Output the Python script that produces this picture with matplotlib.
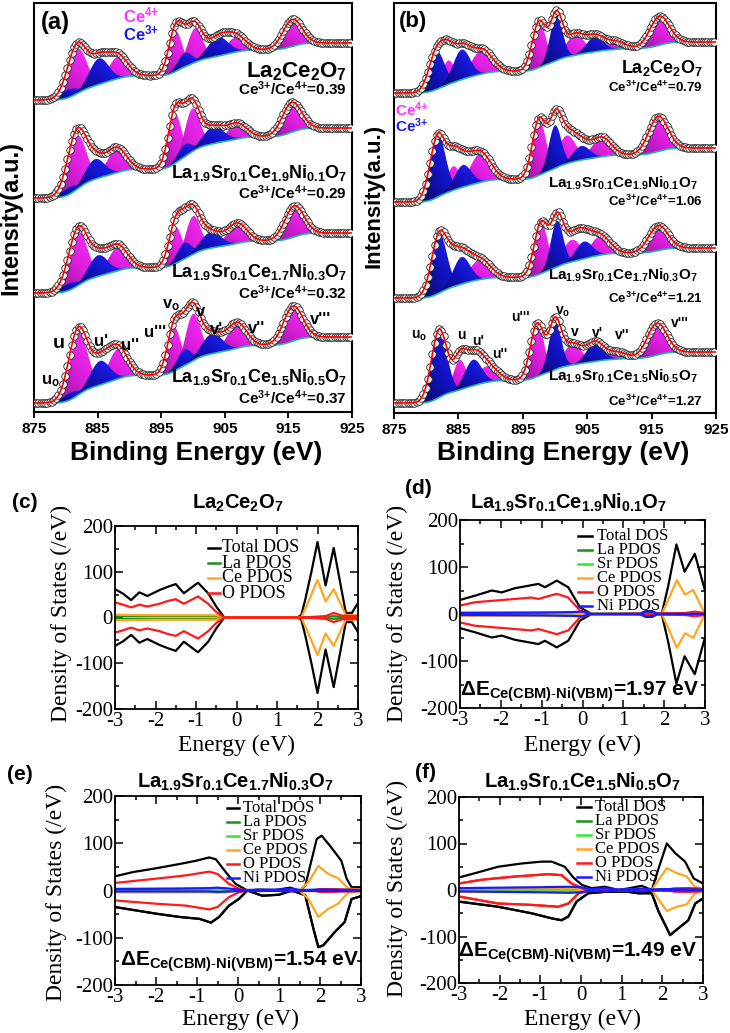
import numpy as np
import matplotlib
matplotlib.use("Agg")
import matplotlib.pyplot as plt
from matplotlib.colors import LinearSegmentedColormap
from matplotlib.lines import Line2D

W, H = 730, 1033
SANS = "Liberation Sans"
SERIF = "Liberation Serif"

plt.rcParams["font.family"] = [SANS, "DejaVu Sans"]
plt.rcParams["mathtext.fontset"] = "custom"
plt.rcParams["mathtext.rm"] = SANS
plt.rcParams["mathtext.bf"] = SANS + ":bold"
plt.rcParams["mathtext.it"] = SANS + ":italic"
plt.rcParams["axes.unicode_minus"] = False

# ---------------- XPS Ce 3d fits: centre (eV) / height (a.u.) per spectrum ----------------
BE = np.arange(875, 925.001, 0.05)

# (a) baselines (left, right) for the four stacked spectra, top to bottom
a_base = [(312, 369), (214, 284), (119, 179), (9, 75)]
a_ce4_c = [[881.9, 888.2, 897.2, 900.3, 906.8, 915.6],
           [881.8, 888.0, 897.1, 899.9, 906.9, 915.5],
           [882.0, 888.2, 897.2, 900.0, 906.9, 915.9],
           [882.0, 888.2, 897.0, 900.0, 906.9, 915.7]]
a_ce4_h = [[44, 22, 41, 34, 15, 27],
           [53, 24, 50, 43, 15, 30],
           [53, 24, 37, 38, 20, 31],
           [62, 30, 44, 47, 25, 35]]
a_ce4_s = [1.4, 1.5, 1.05, 1.2, 1.5, 1.5]
a_ce3_c = [[880.5, 885.2, 898.7, 903.9],
           [880.5, 884.6, 898.7, 903.2],
           [880.5, 885.1, 898.6, 902.8],
           [880.7, 885.4, 898.6, 903.0]]
a_ce3_h = [[8, 26, 14, 19], [7, 20, 12, 17], [7, 21, 16, 16], [7, 24, 16, 20]]
a_ce3_s = [1.3, 1.5, 1.1, 1.6]

# (b)
b_base = [(320, 371), (211, 265), (115, 165), (10, 61)]
b_ce4_c = [[883.4, 888.6, 897.5, 903.1, 909.3, 916.2],
           [884.2, 888.4, 897.5, 901.8, 907.2, 916.0],
           [884.0, 888.3, 897.8, 902.6, 907.0, 916.0],
           [885.2, 889.4, 897.2, 902.7, 909.6, 915.8]]
b_ce4_h = [[24, 24, 46, 21, 8, 29],
           [24, 29, 56, 28, 19, 35],
           [14, 20, 51, 22, 19, 25],
           [30, 16, 53, 21, 7, 32]]
b_ce4_s = [1.0, 1.6, 1.05, 1.4, 1.5, 1.5]
b_ce3_c = [[881.6, 885.5, 900.2, 906.2],
           [881.8, 885.7, 900.0, 904.1],
           [882.0, 885.5, 900.3, 904.5],
           [882.0, 887.3, 900.0, 906.2]]
b_ce3_h = [[38, 30, 46, 15], [62, 22, 43, 14], [59, 27, 46, 17], [68, 26, 48, 19]]
b_ce3_s = [1.2, 1.3, 0.95, 1.3]

a_names = [r"La$_\mathbf{2}$Ce$_\mathbf{2}$O$_\mathbf{7}$",
           r"La$_\mathbf{1.9}$Sr$_\mathbf{0.1}$Ce$_\mathbf{1.9}$Ni$_\mathbf{0.1}$O$_\mathbf{7}$",
           r"La$_\mathbf{1.9}$Sr$_\mathbf{0.1}$Ce$_\mathbf{1.7}$Ni$_\mathbf{0.3}$O$_\mathbf{7}$",
           r"La$_\mathbf{1.9}$Sr$_\mathbf{0.1}$Ce$_\mathbf{1.5}$Ni$_\mathbf{0.5}$O$_\mathbf{7}$"]
a_ratio = ["0.39", "0.29", "0.32", "0.37"]
b_ratio = ["0.79", "1.06", "1.21", "1.27"]
peak_names = [r"u$_\mathbf{o}$", "u", "u'", "u''", "u'''",
              r"v$_\mathbf{o}$", "v", "v'", "v''", "v'''"]

# ---------------- DOS curves (energy eV, states/eV) ----------------
# (c) La2Ce2O7  (spin up; spin down is the mirror image)
c_tot_E = [-3.0, -2.8, -2.6, -2.4, -2.2, -1.9, -1.7, -1.5, -1.3, -0.95, -0.7, -0.5, -0.3,
           1.5, 1.6, 1.7, 1.85, 2.0, 2.2, 2.4, 2.7, 2.85, 3.0]
c_tot_up = [62, 52, 38, 55, 47, 60, 67, 73, 53, 76, 53, 24, 0,
            0, 5, 40, 100, 165, 70, 152, 10, 10, 32]
c_o_E = [-3.0, -2.8, -2.6, -2.4, -2.2, -1.9, -1.7, -1.5, -1.3, -0.95, -0.7, -0.5, -0.3,
         1.6, 2.0, 2.2, 2.4, 2.6, 3.0]
c_o_up = [33, 28, 22, 28, 24, 30, 36, 40, 30, 46, 30, 12, 0, 0, 2, 3, 10, 4, 3]
c_ce_E = [-3.0, -2.0, -0.5, -0.3, 1.6, 1.8, 2.0, 2.2, 2.4, 2.7, 3.0]
c_ce_up = [6, 5, 5, 0, 0, 40, 82, 35, 62, 5, 5]
c_la_E = [-3.0, -0.5, -0.3, 1.6, 2.2, 2.4, 2.6, 3.0]
c_la_up = [3, 3, 0, 0, 1, 3, 1, 1]

# (d) La1.9Sr0.1Ce1.9Ni0.1O7
d_tot_E = [-3.0, -2.63, -2.22, -1.98, -1.65, -1.33, -1.08, -0.92, -0.63, -0.35, -0.06, 0.22,
           1.4, 1.55, 1.7, 1.85, 1.94, 2.1, 2.3, 2.5, 2.75, 3.0]
d_tot_up = [30, 39, 50, 46, 55, 60, 64, 57, 71, 57, 14, 0,
            0, 6, 6, 0, 0, 60, 148, 90, 128, 50]
d_o_E = [-3.0, -2.63, -2.22, -1.65, -1.25, -1.08, -0.63, -0.35, -0.06, 0.22, 2.5, 2.75, 3.0]
d_o_up = [18, 25, 28, 32, 35, 32, 43, 35, 7, 0, 2, 5, 2]
d_ce_E = [-3.0, -0.2, 0.1, 1.94, 2.1, 2.31, 2.51, 2.71, 3.0]
d_ce_up = [4, 3, 0, 0, 30, 72, 41, 51, 0]
d_la_E = [-3.0, -0.2, 0.1, 3.0]
d_la_up = [2, 2, 0, 0]
d_sr_E = [-3.0, -0.2, 0.1, 3.0]
d_sr_up = [1, 1, 0, 0]
d_ni_E = [-3.0, -1.0, -0.3, 0.0, 0.2, 1.4, 1.55, 1.7, 1.85, 2.0, 3.0]
d_ni_up = [2, 3, 4, 5, 0, 0, 5, 5, 0, 0, 0]

# (e) La1.9Sr0.1Ce1.7Ni0.3O7 (spin up and down read separately)
e_totu_E = [-3.0, -2.56, -2.0, -1.43, -1.02, -0.7, -0.54, -0.3, -0.06, 0.23, 0.5, 0.9,
            1.27, 1.5, 1.64, 1.92, 2.04, 2.24, 2.52, 2.65, 2.77, 3.0]
e_totu = [30, 39, 47, 56, 63, 70, 66, 39, 14, 0, 2, 1, 6, 0, 10, 109, 116, 95, 63, 25, 7, 7]
e_totd_E = [-3.0, -2.0, -1.43, -0.94, -0.66, -0.46, -0.22, 0.02, 0.23, 0.59, 1.0, 1.31,
            1.64, 1.84, 1.96, 2.08, 2.36, 2.6, 2.77, 3.0]
e_totd = [-35, -49, -56, -60, -68, -56, -32, -18, 0, -11, -9, 0,
          -10, -81, -120, -116, -88, -67, -18, -12]
e_o_E = [-3.0, -2.0, -1.27, -0.7, -0.5, -0.22, 0.02, 0.23, 1.8, 2.0, 2.3, 3.0]
e_o_up = [16, 25, 32, 40, 35, 14, 4, 0, 0, 3, 3, 1]
e_o_dn = [-21, -28, -32, -40, -35, -14, -4, 0, 0, -3, -3, -1]
e_ce_E = [-3.0, -0.3, 0.0, 1.5, 1.72, 1.96, 2.2, 2.44, 2.69, 3.0]
e_ce_up = [4, 4, 0, 0, 18, 52, 35, 26, 4, 2]
e_ce_dn = [-4, -4, 0, 0, -18, -56, -39, -28, -4, -2]
e_la_E = [-3.0, -0.3, 0.0, 3.0]
e_la_up = [2, 3, 0, 0]
e_sr_up = [1, 1, 0, 0]
e_ni_E = [-3.0, -1.5, -0.7, -0.5, -0.2, 0.1, 1.0, 1.3, 1.5, 2.0, 3.0]
e_ni_up = [3, 4, 5, 6, 4, 1, 2, 4, 1, 2, 1]
e_ni_dn = [-2, -2, -2, -3, -2, -1, -1, -2, -1, -1, -1]

# (f) La1.9Sr0.1Ce1.5Ni0.5O7
f_totu_E = [-3.0, -2.53, -2.04, -1.46, -0.97, -0.72, -0.4, -0.19, 0.02, 0.26, 0.59, 0.92,
            1.2, 1.49, 1.74, 1.91, 2.11, 2.32, 2.56, 2.77, 3.0]
f_totu = [27, 38, 50, 57, 61, 61, 50, 27, 11, 4, 7, 0, 4, 9, 0, 47, 100, 79, 61, 25, 14]
f_totd_E = [-3.0, -2.04, -1.22, -0.72, -0.48, -0.31, -0.11, 0.18, 0.59, 1.17, 1.41,
            1.74, 1.91, 2.11, 2.19, 2.4, 2.64, 2.81, 3.0]
f_totd = [-25, -36, -50, -61, -65, -57, -25, -7, -4, -4, -7, -7, -47, -82, -97, -82, -65, -29, -18]
f_ou_E = [-3.0, -2.45, -1.63, -0.81, -0.48, -0.23, 0.02, 0.26, 2.0, 2.3, 2.6, 3.0]
f_ou = [14, 22, 29, 34, 32, 14, 4, 0, 0, 3, 4, 2]
f_od_E = [-3.0, -2.04, -1.22, -0.56, -0.31, -0.06, 0.26, 2.0, 2.3, 2.6, 3.0]
f_od = [-14, -29, -32, -36, -29, -7, 0, 0, -3, -4, -2]
f_ce_E = [-3.0, -0.2, 0.1, 1.74, 2.11, 2.36, 2.6, 2.8, 3.0]
f_ce_up = [4, 4, 0, 0, 47, 36, 29, 7, 2]
f_ce_dn = [-4, -4, 0, 0, -45, -36, -31, -7, -2]
f_la_E = [-3.0, -0.1, 0.2, 3.0]
f_la_up = [2, 4, 0, 0]
f_sr_up = [1, 2, 0, 0]
f_ni_E = [-3.0, -2.0, -1.0, -0.3, 0.0, 0.2, 0.6, 0.9, 1.2, 1.5, 1.8, 2.0, 3.0]
f_ni_up = [4, 5, 6, 7, 6, 2, 4, 1, 2, 3, 1, 2, 1]
f_ni_dn = [-3, -4, -5, -6, -5, -2, -3, -1, -2, -3, -1, -1, -1]

dE = ["1.97", "1.54", "1.49"]

COL = {"Total DOS": "black", "La PDOS": "#1d8f1d", "Sr PDOS": "#2ee82e",
       "Ce PDOS": "#ffa51f", "O PDOS": "#ff1a1a", "Ni PDOS": "#1a1aff"}

CM4 = LinearSegmentedColormap.from_list("ce4", ["#85178c", "#e01ee0", "#ff3cff"])
CM3 = LinearSegmentedColormap.from_list("ce3", ["#0a0a52", "#1212c4", "#2626ff"])

fig = plt.figure(figsize=(W / 100, H / 100), dpi=100)


def add_ax(l, t, r, b):
    return fig.add_axes([l / W, 1 - b / H, (r - l) / W, (b - t) / H])


def ftext(x, y, s, **kw):
    kw.setdefault("ha", "center")
    kw.setdefault("va", "center")
    return fig.text(x / W, 1 - y / H, s, **kw)


def grad_fill(ax, bg, g, cmap):
    m = g > 0.25
    x, lo, hi = BE[m], bg[m], bg[m] + g[m]
    poly = ax.fill_between(x, lo, hi, facecolor="none", edgecolor="none")
    t = np.linspace(0, 1, 48)
    img = (0.55 * t[None, :] + 0.45 * t[:, None])
    im = ax.imshow(img, cmap=cmap, origin="lower", aspect="auto", interpolation="bilinear",
                   extent=[x.min(), x.max(), lo.min(), hi.max()], zorder=2)
    im.set_clip_path(poly.get_paths()[0], transform=ax.transData)


def xps_panel(ax, height, base, c4, h4, s4, c3, h3, s3):
    for k in range(4):
        g4 = [h * np.exp(-0.5 * ((BE - c) / s) ** 2) for c, h, s in zip(c4[k], h4[k], s4)]
        g3 = [h * np.exp(-0.5 * ((BE - c) / s) ** 2) for c, h, s in zip(c3[k], h3[k], s3)]
        tot = sum(g4) + sum(g3)
        cum = np.cumsum(tot)
        bg = base[k][0] + (base[k][1] - base[k][0]) * cum / cum[-1]   # Shirley-type background
        for g in g4:
            grad_fill(ax, bg, g, CM4)
        for g in g3:
            grad_fill(ax, bg, g, CM3)
        ax.plot(BE, bg, color="#1fb3b8", lw=1.2, zorder=4)
        fit = bg + tot
        ax.plot(BE[::7], fit[::7], "o", ms=5.4, mfc="white", mec="#222222", mew=0.6, zorder=5)
        ax.plot(BE, fit, color="red", lw=1.2, zorder=6)
    ax.set_xlim(875, 925)
    ax.set_ylim(0, height)
    ax.set_yticks([])
    ax.set_xticks([875, 885, 895, 905, 915, 925])
    ax.tick_params(axis="x", direction="out", length=4, width=1.3, labelsize=11, pad=3)
    for lb in ax.get_xticklabels():
        lb.set_fontweight("bold")
    for sp in ax.spines.values():
        sp.set_linewidth(1.5)


def dos_panel(ax, curves):
    for E, up, dn, col in curves:
        ax.plot(E, up, color=col, lw=1.6)
        ax.plot(E, dn, color=col, lw=1.6)
    ax.set_xlim(-3, 3)
    ax.set_ylim(-200, 200)
    ax.set_xticks(range(-3, 4))
    ax.set_yticks([-200, -100, 0, 100, 200])
    ax.set_xticks(np.arange(-2.5, 3, 1.0), minor=True)
    ax.set_yticks([-150, -50, 50, 150], minor=True)
    ax.tick_params(which="both", direction="in", top=True, right=True, width=1.1)
    ax.tick_params(which="major", length=6, labelsize=15, pad=1.5)
    ax.tick_params(which="minor", length=3)
    ax.tick_params(axis="x", pad=2)
    for lb in ax.get_xticklabels() + ax.get_yticklabels():
        lb.set_fontfamily(SERIF)
    for sp in ax.spines.values():
        sp.set_linewidth(1.3)


def neg(v):
    return [-x for x in v]


def dos_legend(names, xl, xt, y0, dy, size):
    for i, n in enumerate(names):
        y = y0 + i * dy
        fig.add_artist(Line2D([xl[0] / W, xl[1] / W], [1 - y / H, 1 - y / H],
                              color=COL[n], lw=1.8))
        ftext(xt, y, n, ha="left", family=SERIF, fontsize=size)


def ratio(v):
    return r"Ce$^{\mathbf{3{+}}}$/Ce$^{\mathbf{4{+}}}$=" + v


# ---------------- (a) ----------------
ax_a = add_ax(34, 3, 352, 412)
xps_panel(ax_a, 409, a_base, a_ce4_c, a_ce4_h, a_ce4_s, a_ce3_c, a_ce3_h, a_ce3_s)
ftext(55, 23, "(a)", fontsize=17, fontweight="bold")
ftext(123, 15, r"Ce$^{\mathbf{4{+}}}$", ha="left", fontsize=12, fontweight="bold", color="#ff33ff")
ftext(123, 33, r"Ce$^{\mathbf{3{+}}}$", ha="left", fontsize=12, fontweight="bold", color="#1a1aee")
a_name_y = [72, 173, 272, 377]
a_ratio_y = [89, 193, 293, 398]
for k in range(4):
    ftext(347, a_name_y[k], a_names[k], ha="right", fontweight="bold",
          fontsize=16 if k == 0 else 13)
    ftext(347, a_ratio_y[k], ratio(a_ratio[k]), ha="right", fontsize=11, fontweight="bold")
a_lab_xy = [(50, 381), (59, 344), (101, 341), (130, 346), (155, 333),
            (171, 305), (201, 311), (217, 329), (257, 328), (321, 320)]
for name, (x, y) in zip(peak_names, a_lab_xy):
    ftext(x, y, name, fontsize=14 if name == "u" else 12, fontweight="bold")
ftext(11, 218, "Intensity(a.u.)", rotation=90, fontsize=17, fontweight="bold")
ftext(196, 453, "Binding Energy (eV)", fontsize=19, fontweight="bold")

# ---------------- (b) ----------------
ax_b = add_ax(394, 3, 716, 413)
xps_panel(ax_b, 410, b_base, b_ce4_c, b_ce4_h, b_ce4_s, b_ce3_c, b_ce3_h, b_ce3_s)
ftext(413, 22, "(b)", fontsize=16, fontweight="bold")
ftext(395, 110, r"Ce$^{\mathbf{4{+}}}$", ha="left", fontsize=11, fontweight="bold", color="#ff33ff")
ftext(395, 126, r"Ce$^{\mathbf{3{+}}}$", ha="left", fontsize=11, fontweight="bold", color="#1a1aee")
b_name_y = [68, 183, 275, 376]
b_ratio_y = [87, 201, 298, 401]
for k in range(4):
    ftext(703 if k == 0 else 698, b_name_y[k], a_names[k], ha="right", fontweight="bold",
          fontsize=13 if k == 0 else 11)
    ftext(703, b_ratio_y[k], ratio(b_ratio[k]), ha="right", fontsize=9.5, fontweight="bold")
b_lab_xy = [(419, 336), (461, 335), (478, 341), (500, 354), (520, 317),
            (563, 312), (575, 332), (598, 333), (622, 335), (680, 323)]
for name, (x, y) in zip(peak_names, b_lab_xy):
    ftext(x, y, name, fontsize=10, fontweight="bold")
ftext(374, 196, "Intensity(a.u.)", rotation=90, fontsize=16, fontweight="bold")
ftext(563, 453, "Binding Energy (eV)", fontsize=19, fontweight="bold")

# ---------------- (c) ----------------
ax_c = add_ax(115, 526, 358, 709)
dos_panel(ax_c, [(c_tot_E, c_tot_up, neg(c_tot_up), COL["Total DOS"]),
                 (c_la_E, c_la_up, neg(c_la_up), COL["La PDOS"]),
                 (c_ce_E, c_ce_up, neg(c_ce_up), COL["Ce PDOS"]),
                 (c_o_E, c_o_up, neg(c_o_up), COL["O PDOS"])])
dos_legend(["Total DOS", "La PDOS", "Ce PDOS", "O PDOS"], (208, 220), 222, 548, 15, 13)

# ---------------- (d) ----------------
ax_d = add_ax(460, 520, 705, 708)
dos_panel(ax_d, [(d_tot_E, d_tot_up, neg(d_tot_up), COL["Total DOS"]),
                 (d_la_E, d_la_up, neg(d_la_up), COL["La PDOS"]),
                 (d_sr_E, d_sr_up, neg(d_sr_up), COL["Sr PDOS"]),
                 (d_ce_E, d_ce_up, neg(d_ce_up), COL["Ce PDOS"]),
                 (d_o_E, d_o_up, neg(d_o_up), COL["O PDOS"]),
                 (d_ni_E, d_ni_up, neg(d_ni_up), COL["Ni PDOS"])])
six = ["Total DOS", "La PDOS", "Sr PDOS", "Ce PDOS", "O PDOS", "Ni PDOS"]
dos_legend(six, (578, 592), 597, 536, 14, 12)

# ---------------- (e) ----------------
ax_e = add_ax(115, 796, 361, 985)
ax_e.plot(e_totu_E, e_totu, color=COL["Total DOS"], lw=1.6)
dos_panel(ax_e, [(e_totd_E, e_totd, e_totd, COL["Total DOS"]),
                 (e_la_E, e_la_up, neg(e_la_up), COL["La PDOS"]),
                 (e_la_E, e_sr_up, neg(e_sr_up), COL["Sr PDOS"]),
                 (e_ce_E, e_ce_up, e_ce_dn, COL["Ce PDOS"]),
                 (e_o_E, e_o_up, e_o_dn, COL["O PDOS"]),
                 (e_ni_E, e_ni_up, e_ni_dn, COL["Ni PDOS"])])
dos_legend(six, (227, 239), 243, 808, 14, 12)

# ---------------- (f) ----------------
ax_f = add_ax(459, 797, 703, 983)
ax_f.plot(f_totu_E, f_totu, color=COL["Total DOS"], lw=1.6)
dos_panel(ax_f, [(f_totd_E, f_totd, f_totd, COL["Total DOS"]),
                 (f_la_E, f_la_up, neg(f_la_up), COL["La PDOS"]),
                 (f_la_E, f_sr_up, neg(f_sr_up), COL["Sr PDOS"]),
                 (f_ce_E, f_ce_up, f_ce_dn, COL["Ce PDOS"]),
                 (f_ou_E, f_ou, f_ou, COL["O PDOS"]),
                 (f_od_E, f_od, f_od, COL["O PDOS"]),
                 (f_ni_E, f_ni_up, f_ni_dn, COL["Ni PDOS"])])
dos_legend(six, (577, 591), 595, 807, 14, 12)

# titles, panel letters, axis labels, gap annotations
for x, y, s in [(25, 503, "(c)"), (418, 489, "(d)"), (20, 775, "(e)"), (425, 773, "(f)")]:
    ftext(x, y, s, fontsize=15, fontweight="bold")
for x, y, k in [(238, 503, 0), (568, 503, 1), (235, 782, 2), (582, 782, 3)]:
    ftext(x, y, a_names[k], fontsize=14.5, fontweight="bold")
for x, y in [(237, 745), (583, 745), (240, 1019), (582, 1019)]:
    ftext(x, y, "Energy (eV)", family=SERIF, fontsize=17)
for x, y in [(61, 613), (397, 613), (56, 892), (397, 888)]:
    ftext(x, y, "Density of States (/eV)", family=SERIF, fontsize=17, rotation=90)
for (x, y), v in zip([(580, 692), (240, 962), (578, 953)], dE):
    ftext(x, y, r"$\mathbf{\Delta E_{Ce(CBM)\text{-}Ni(VBM)}}$=" + v + " eV",
          fontsize=15, fontweight="bold")

fig.savefig("out.png", dpi=100)
